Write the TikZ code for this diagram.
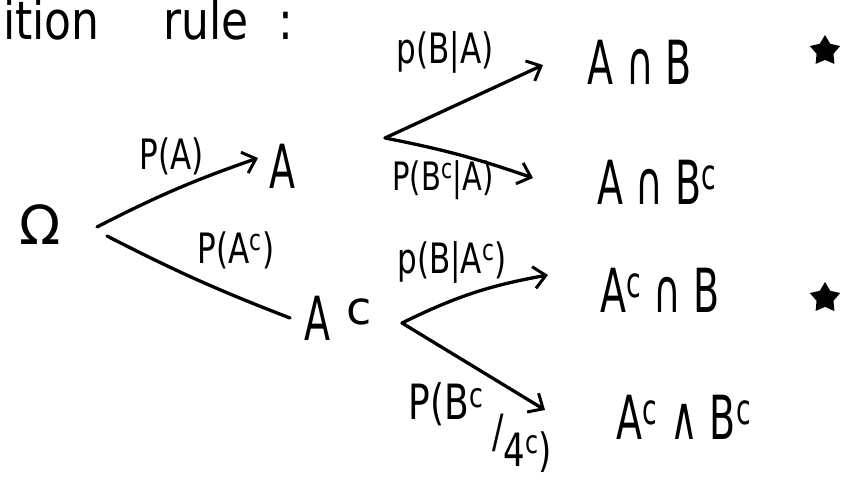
\documentclass[tikz,border=0pt]{standalone}
\usepackage{fontspec}
\setmainfont{DejaVu Sans}
\usetikzlibrary{arrows.meta,shapes.geometric}
\newcommand\hw[2][1.6]{\scalebox{1}[#1]{#2}}
\begin{document}
\begin{tikzpicture}[x=1pt,y=-1pt,
  res/.style={inner sep=0pt,font=\fontsize{38}{42}\selectfont},
  lab/.style={inner sep=0pt,font=\fontsize{31}{35}\selectfont},
  conn/.style={line width=3.3pt,line cap=round},
  tip/.style={-{Straight Barb[length=12pt,width=22pt,line width=3pt]}},
  starmark/.style={star,star points=5,star point ratio=1.8,fill=black,inner sep=0pt,minimum size=32pt}
]
\useasboundingbox[fill=white] (0,0) rectangle (845,486);

% title
\node[inner sep=0pt,anchor=base west,font=\fontsize{44}{48}\selectfont] (title) at (3,40)
  {\hw[1.2]{ition\hspace{64pt}rule\hspace{30pt}:}};

% nodes
\node[inner sep=0pt,font=\fontsize{54}{58}\selectfont] (Om) at (40,225) {Ω};
\node[res] (A) at (282,166) {\hw{A}};
\node[res] (Ac) at (338,318) {\hw{A}\hspace{16pt}\raisebox{16pt}{\fontsize{46}{50}\selectfont c}};
\node[res] (AB) at (640,62) {\hw{A ∩ B}};
\node[res] (ABc) at (657,182) {\hw{A ∩ B\textsuperscript{c}}};
\node[res] (AcB) at (660,290) {\hw{A\textsuperscript{c} ∩ B}};
\node[res] (AcBc) at (684,417) {\hw{A\textsuperscript{c} ∧ B\textsuperscript{c}}};
\node[starmark] (s1) at (825,51) {};
\node[starmark] (s2) at (825,298) {};

% labels
\node[lab] (lA) at (172,156) {\hw[1.35]{P(A)}};
\node[lab] (lAc) at (236,250) {\hw[1.35]{P(A\textsuperscript{c})}};
\node[lab] (lBA) at (445,52) {\hw[1.35]{p(B|A)}};
\node[lab,font=\fontsize{29}{33}\selectfont] (lBcA) at (443,180) {\hw[1.35]{P(B\textsuperscript{c}|A)}};
\node[lab] (lBAc) at (452,262) {\hw[1.35]{p(B|A\textsuperscript{c})}};
\node[lab,font=\fontsize{36}{40}\selectfont] (lBcAc) at (446,404) {\hw[1.35]{P(B\textsuperscript{c}}};
\node[lab,font=\fontsize{34}{38}\selectfont] (lBcAc2) at (522,443) {\hw[1.35]{/\raisebox{-14pt}{4\textsuperscript{c})}}};

% branch points
\coordinate (o1) at (97,227);
\coordinate (o2) at (107,236);
\coordinate (bA) at (385,138);
\coordinate (bAc) at (402,323);
\coordinate (tA) at (258,158);
\coordinate (tAc) at (290,318);
\coordinate (tAB) at (543,65);
\coordinate (tABc) at (533,178);
\coordinate (tAcB) at (548,275);
\coordinate (tAcBc) at (545,410);

% connectors
\draw[conn,tip] (o1) to[bend left=4] (tA);
\draw[conn] (o2) to[bend right=3] (tAc);
\draw[conn,tip] (bA) -- (tAB);
\draw[conn,tip] (bA) to[bend left=4] (tABc);
\draw[conn,tip] (bAc) to[bend left=8] (tAcB);
\draw[conn,tip] (bAc) -- (tAcBc);
\end{tikzpicture}
\end{document}
